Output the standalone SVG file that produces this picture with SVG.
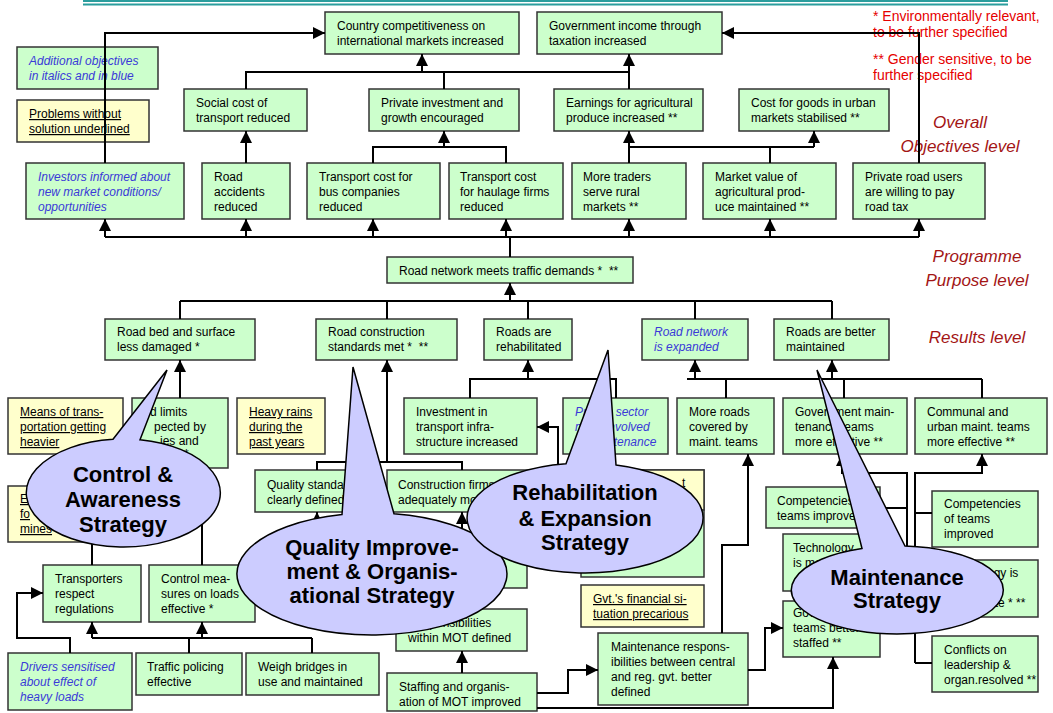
<svg xmlns="http://www.w3.org/2000/svg" width="1053" height="713" viewBox="0 0 1053 713">
<defs>
<style>
.g{fill:#ccffcc;stroke:#333;stroke-width:1.5}
.y{fill:#ffffcc;stroke:#333;stroke-width:1.5}
text{font-family:"Liberation Sans",Arial,sans-serif}
.t{font-size:12px;fill:#000}
.bl{fill:#3a3ad8;font-style:italic}
.u{text-decoration:underline}
.c{fill:none;stroke:#000;stroke-width:2}
.a{marker-end:url(#ah)}
.e{fill:#ccccff;stroke:#000;stroke-width:1.5}
.s{font-size:22px;font-weight:bold;text-anchor:middle;fill:#000}
.lv{font-size:17px;font-style:italic;fill:#a31515;text-anchor:middle}
.n{font-size:14px;fill:#e60000}
</style>
<marker id="ah" viewBox="0 0 12 12" refX="12" refY="6" markerWidth="12" markerHeight="12" markerUnits="userSpaceOnUse" orient="auto"><path d="M0,0 L12,6 L0,12 Z" fill="#000"/></marker>
</defs>
<rect x="0" y="0" width="1053" height="713" fill="#fff"/>
<g id="topline"><line x1="83" y1="1" x2="1008" y2="1" stroke="#2a9d9d" stroke-width="2"/><line x1="83" y1="4.5" x2="1008" y2="4.5" stroke="#2a9d9d" stroke-width="2"/></g>
<g id="notes"><text class="n"><tspan x="873" y="21">* Environmentally relevant,</tspan><tspan x="873" y="37">to be further specified</tspan><tspan x="873" y="64">** Gender sensitive, to be</tspan><tspan x="873" y="80">further specified</tspan></text></g>
<g id="levels"><text class="lv"><tspan x="960" y="128">Overall</tspan><tspan x="960" y="152">Objectives level</tspan></text><text class="lv"><tspan x="977" y="262">Programme</tspan><tspan x="977" y="286">Purpose level</tspan></text><text class="lv" x="977" y="343">Results level</text></g>

<g id="country"><rect class="g" x="325" y="12" width="194" height="42"/><text class="t"><tspan x="337" y="30">Country competitiveness on</tspan><tspan x="337" y="45">international markets increased</tspan></text></g>
<g id="government"><rect class="g" x="537" y="12" width="185" height="42"/><text class="t"><tspan x="549" y="30">Government income through</tspan><tspan x="549" y="45">taxation increased</tspan></text></g>
<g id="legend-additional"><rect class="g" x="17" y="47" width="141" height="42"/><text class="t bl"><tspan x="29" y="65">Additional objectives</tspan><tspan x="29" y="80">in italics and in blue</tspan></text></g>
<g id="legend-problems"><rect class="y" x="17" y="100" width="132" height="42"/><text class="t u"><tspan x="29" y="118">Problems without</tspan><tspan x="29" y="133">solution underlined</tspan></text></g>
<g id="social"><rect class="g" x="184" y="89" width="123" height="42"/><text class="t"><tspan x="196" y="107">Social cost of</tspan><tspan x="196" y="122">transport reduced</tspan></text></g>
<g id="privinv"><rect class="g" x="369" y="89" width="150" height="42"/><text class="t"><tspan x="381" y="107">Private investment and</tspan><tspan x="381" y="122">growth encouraged</tspan></text></g>
<g id="earnings"><rect class="g" x="554" y="89" width="149" height="42"/><text class="t"><tspan x="566" y="107">Earnings for agricultural</tspan><tspan x="566" y="122">produce increased **</tspan></text></g>
<g id="costgoods"><rect class="g" x="739" y="89" width="150" height="42"/><text class="t"><tspan x="751" y="107">Cost for goods in urban</tspan><tspan x="751" y="122">markets stabilised **</tspan></text></g>
<g id="investors"><rect class="g" x="26" y="163" width="158" height="56"/><text class="t bl"><tspan x="38" y="181">Investors informed about</tspan><tspan x="38" y="196">new market conditions/</tspan><tspan x="38" y="211">opportunities</tspan></text></g>
<g id="accidents"><rect class="g" x="202" y="163" width="88" height="56"/><text class="t"><tspan x="214" y="181">Road</tspan><tspan x="214" y="196">accidents</tspan><tspan x="214" y="211">reduced</tspan></text></g>
<g id="bus"><rect class="g" x="307" y="163" width="133" height="56"/><text class="t"><tspan x="319" y="181">Transport cost for</tspan><tspan x="319" y="196">bus companies</tspan><tspan x="319" y="211">reduced</tspan></text></g>
<g id="haulage"><rect class="g" x="449" y="163" width="114" height="56"/><text class="t"><tspan x="460" y="181">Transport cost</tspan><tspan x="460" y="196">for haulage firms</tspan><tspan x="460" y="211">reduced</tspan></text></g>
<g id="traders"><rect class="g" x="572" y="163" width="114" height="56"/><text class="t"><tspan x="583" y="181">More traders</tspan><tspan x="583" y="196">serve rural</tspan><tspan x="583" y="211">markets **</tspan></text></g>
<g id="marketvalue"><rect class="g" x="703" y="163" width="133" height="56"/><text class="t"><tspan x="715" y="181">Market value of</tspan><tspan x="715" y="196">agricultural prod-</tspan><tspan x="715" y="211">uce maintained **</tspan></text></g>
<g id="roadusers"><rect class="g" x="853" y="163" width="132" height="56"/><text class="t"><tspan x="865" y="181">Private road users</tspan><tspan x="865" y="196">are willing to pay</tspan><tspan x="865" y="211">road tax</tspan></text></g>
<g id="purpose"><rect class="g" x="387" y="257" width="246" height="26"/><text class="t" x="399" y="275">Road network meets traffic demands *&#160; **</text></g>
<g id="roadbed"><rect class="g" x="105" y="319" width="150" height="41"/><text class="t"><tspan x="117" y="336">Road bed and surface</tspan><tspan x="117" y="351">less damaged *</tspan></text></g>
<g id="standards"><rect class="g" x="316" y="319" width="141" height="41"/><text class="t"><tspan x="328" y="336">Road construction</tspan><tspan x="328" y="351">standards met *&#160; **</tspan></text></g>
<g id="rehabilitated"><rect class="g" x="484" y="319" width="88" height="41"/><text class="t"><tspan x="496" y="336">Roads are</tspan><tspan x="496" y="351">rehabilitated</tspan></text></g>
<g id="expanded"><rect class="g" x="642" y="319" width="106" height="41"/><text class="t bl"><tspan x="654" y="336">Road network</tspan><tspan x="654" y="351">is expanded</tspan></text></g>
<g id="maintained"><rect class="g" x="774" y="319" width="115" height="41"/><text class="t"><tspan x="786" y="336">Roads are better</tspan><tspan x="786" y="351">maintained</tspan></text></g>
<g id="means"><rect class="y" x="8" y="398" width="115" height="56"/><text class="t u"><tspan x="20" y="416">Means of trans-</tspan><tspan x="20" y="431">portation getting</tspan><tspan x="20" y="446">heavier</tspan></text></g>
<g id="speedlimits"><rect class="g" x="132" y="398" width="96" height="70"/><text class="t"><tspan x="150" y="416">d limits</tspan><tspan x="154" y="431">pected by</tspan><tspan x="160" y="445">ies and</tspan><tspan x="184" y="458">*</tspan></text></g>
<g id="heavyrains"><rect class="y" x="237" y="398" width="88" height="56"/><text class="t u"><tspan x="249" y="416">Heavy rains</tspan><tspan x="249" y="431">during the</tspan><tspan x="249" y="446">past years</tspan></text></g>
<g id="investment"><rect class="g" x="404" y="398" width="133" height="56"/><text class="t"><tspan x="416" y="416">Investment in</tspan><tspan x="416" y="431">transport infra-</tspan><tspan x="416" y="446">structure increased</tspan></text></g>
<g id="privsector"><rect class="g" x="563" y="398" width="105" height="56"/><text class="t bl"><tspan x="575" y="416">Private sector</tspan><tspan x="575" y="431">more involved</tspan><tspan x="575" y="446">in maintenance</tspan></text></g>
<g id="moreroads"><rect class="g" x="677" y="398" width="97" height="56"/><text class="t"><tspan x="689" y="416">More roads</tspan><tspan x="689" y="431">covered by</tspan><tspan x="689" y="446">maint. teams</tspan></text></g>
<g id="govmaint"><rect class="g" x="783" y="398" width="124" height="56"/><text class="t"><tspan x="795" y="416">Government main-</tspan><tspan x="795" y="431">tenance teams</tspan><tspan x="795" y="446">more effective **</tspan></text></g>
<g id="communal"><rect class="g" x="915" y="398" width="132" height="56"/><text class="t"><tspan x="927" y="416">Communal and</tspan><tspan x="927" y="431">urban maint. teams</tspan><tspan x="927" y="446">more effective **</tspan></text></g>
<g id="qualitystd"><rect class="g" x="255" y="470" width="120" height="42"/><text class="t"><tspan x="267" y="489">Quality standards</tspan><tspan x="267" y="504">clearly defined</tspan></text></g>
<g id="construction"><rect class="g" x="387" y="470" width="150" height="42"/><text class="t"><tspan x="398" y="489">Construction firms</tspan><tspan x="398" y="504">adequately monitored</tspan></text></g>
<g id="hiddenbox"><rect class="g" x="396" y="535" width="131" height="53"/></g>
<g id="mines"><rect class="y" x="8" y="486" width="115" height="56"/><text class="t u"><tspan x="20" y="503">E</tspan><tspan x="20" y="518">fo</tspan><tspan x="20" y="533">mines</tspan></text></g>
<g id="transporters"><rect class="g" x="43" y="565" width="98" height="57"/><text class="t"><tspan x="55" y="583">Transporters</tspan><tspan x="55" y="598">respect</tspan><tspan x="55" y="613">regulations</tspan></text></g>
<g id="controlmeas"><rect class="g" x="149" y="565" width="106" height="57"/><text class="t"><tspan x="161" y="583">Control mea-</tspan><tspan x="161" y="598">sures on loads</tspan><tspan x="161" y="613">effective *</tspan></text></g>
<g id="drivers"><rect class="g" x="8" y="653" width="124" height="57"/><text class="t bl"><tspan x="20" y="671">Drivers sensitised</tspan><tspan x="20" y="686">about effect of</tspan><tspan x="20" y="701">heavy loads</tspan></text></g>
<g id="traffic"><rect class="g" x="136" y="653" width="106" height="42"/><text class="t"><tspan x="147" y="671">Traffic policing</tspan><tspan x="147" y="686">effective</tspan></text></g>
<g id="weigh"><rect class="g" x="246" y="653" width="133" height="42"/><text class="t"><tspan x="258" y="671">Weigh bridges in</tspan><tspan x="258" y="686">use and maintained</tspan></text></g>
<g id="responsibilities"><rect class="g" x="396" y="609" width="131" height="42"/><text class="t"><tspan x="408" y="627">Responsibilities</tspan><tspan x="408" y="642">within MOT defined</tspan></text></g>
<g id="staffing"><rect class="g" x="387" y="673" width="150" height="38"/><text class="t"><tspan x="399" y="691">Staffing and organis-</tspan><tspan x="399" y="706">ation of MOT improved</tspan></text></g>
<g id="rehabboxes"><rect class="g" x="581" y="470" width="123" height="107"/><rect class="y" x="581" y="470" width="123" height="40"/><text class="t" x="682" y="487">t</text></g>
<g id="gvtfinancial"><rect class="y" x="581" y="585" width="123" height="42"/><text class="t u"><tspan x="593" y="603">Gvt.'s financial si-</tspan><tspan x="593" y="618">tuation precarious</tspan></text></g>
<g id="maintresp"><rect class="g" x="598" y="633" width="150" height="72"/><text class="t"><tspan x="611" y="651">Maintenance respons-</tspan><tspan x="611" y="666">ibilities between central</tspan><tspan x="611" y="681">and reg. gvt. better</tspan><tspan x="611" y="696">defined</tspan></text></g>
<g id="competL"><rect class="g" x="766" y="487" width="114" height="41"/><text class="t"><tspan x="777" y="505">Competencies of</tspan><tspan x="777" y="520">teams improved</tspan></text></g>
<g id="techL"><rect class="g" x="783" y="534" width="97" height="57"/><text class="t"><tspan x="793" y="552">Technology</tspan><tspan x="793" y="567">is more</tspan></text></g>
<g id="govteams"><rect class="g" x="783" y="601" width="97" height="56"/><text class="t"><tspan x="793" y="617">Government</tspan><tspan x="793" y="632">teams better</tspan><tspan x="793" y="647">staffed **</tspan></text></g>
<g id="competR"><rect class="g" x="932" y="491" width="106" height="56"/><text class="t"><tspan x="944" y="508">Competencies</tspan><tspan x="944" y="523">of teams</tspan><tspan x="944" y="538">improved</tspan></text></g>
<g id="techR"><rect class="g" x="932" y="560" width="106" height="57"/><text class="t"><tspan x="987" y="577">ogy is</tspan><tspan x="944" y="607">appropriate * **</tspan></text></g>
<g id="conflicts"><rect class="g" x="932" y="636" width="106" height="56"/><text class="t"><tspan x="944" y="654">Conflicts on</tspan><tspan x="944" y="669">leadership &amp;</tspan><tspan x="944" y="684">organ.resolved **</tspan></text></g>

<g id="connectors">
<path class="c a" d="M105,163 V33 H325"/>
<path class="c a" d="M919,163 V33 H722"/>
<path class="c" d="M246,89 V72 H629 M444,89 V72"/>
<path class="c a" d="M422,72 V54"/>
<path class="c a" d="M629,89 V54"/>
<path class="c a" d="M246,163 V131"/>
<path class="c" d="M373,163 V147 H506 V163"/>
<path class="c a" d="M444,147 V131"/>
<path class="c a" d="M629,163 V131"/>
<path class="c" d="M629,147 H814 M770,163 V147"/>
<path class="c a" d="M814,147 V131"/>
<path class="c" d="M105,237 H919 M510,257 V237"/>
<path class="c a" d="M105,237 V219"/>
<path class="c a" d="M246,237 V219"/>
<path class="c a" d="M373,237 V219"/>
<path class="c a" d="M506,237 V219"/>
<path class="c a" d="M629,237 V219"/>
<path class="c a" d="M770,237 V219"/>
<path class="c a" d="M919,237 V219"/>
<path class="c" d="M180,301 H832 M180,301 V319 M387,301 V319 M528,301 V319 M695,301 V319 M832,301 V319"/>
<path class="c a" d="M510,301 V283"/>
<path class="c a" d="M180,398 V360"/>
<path class="c a" d="M387,462 V360"/>
<path class="c" d="M317,470 V462 H462 V470"/>
<path class="c a" d="M528,379 V360"/>
<path class="c" d="M470,398 V379 H616 V398"/>
<path class="c a" d="M695,379 V360"/>
<path class="c a" d="M832,379 V360"/>
<path class="c" d="M687,379 H982 M726,398 V379 M844,398 V379 M982,398 V379"/>
<path class="c a" d="M581,500 H558 V427 H537"/>
<path class="c a" d="M722,633 V545 H748 V454"/>
<path class="c a" d="M907,628 V473 H842 V454"/>
<path class="c" d="M880,508 H907 M880,560 H907 M880,628 H907"/>
<path class="c a" d="M915,663 V473 H982 V454"/>
<path class="c" d="M915,513 H932 M915,590 H932 M915,663 H932"/>
<path class="c a" d="M92,638 V622"/>
<path class="c a" d="M202,638 V622"/>
<path class="c" d="M92,638 H312 M189,653 V638 M312,653 V638"/>
<path class="c a" d="M70,653 V638 H17 V593 H43"/>
<path class="c" d="M92,565 V520"/>
<path class="c a" d="M202,565 V468"/>
<path class="c a" d="M317,540 V512"/>
<path class="c a" d="M462,535 V512"/>
<path class="c a" d="M462,609 V588"/>
<path class="c a" d="M462,673 V651"/>
<path class="c a" d="M537,693 H568 V670 H598"/>
<path class="c a" d="M537,708 H833 V657"/>
<path class="c a" d="M748,670 H765 V628 H783"/>
</g>

<g id="strategy-control"><path class="e" d="M113,439.3 L167,370 L140,439.8 A97,54 0 1 1 113,439.3 Z"/><text class="s"><tspan x="123" y="482">Control &amp;</tspan><tspan x="123" y="507">Awareness</tspan><tspan x="123" y="532">Strategy</tspan></text></g>
<g id="strategy-quality"><path class="e" d="M342,514.5 L353,367 L394,513.8 A135,61 0 1 1 342,514.5 Z"/><text class="s"><tspan x="372" y="555">Quality Improve-</tspan><tspan x="372" y="579">ment &amp; Organis-</tspan><tspan x="372" y="603">ational Strategy</tspan></text></g>
<g id="strategy-rehab"><path class="e" d="M566,463.7 L608,350 L616,464.9 A118,55 0 1 1 566,463.7 Z"/><text class="s"><tspan x="585" y="500">Rehabilitation</tspan><tspan x="585" y="526">&amp; Expansion</tspan><tspan x="585" y="550">Strategy</tspan></text></g>
<g id="strategy-maint"><path class="e" d="M862,548.5 L817,370 L905,546.1 A106,44 0 1 1 862,548.5 Z"/><text class="s"><tspan x="897" y="585">Maintenance</tspan><tspan x="897" y="608">Strategy</tspan></text></g>
</svg>
